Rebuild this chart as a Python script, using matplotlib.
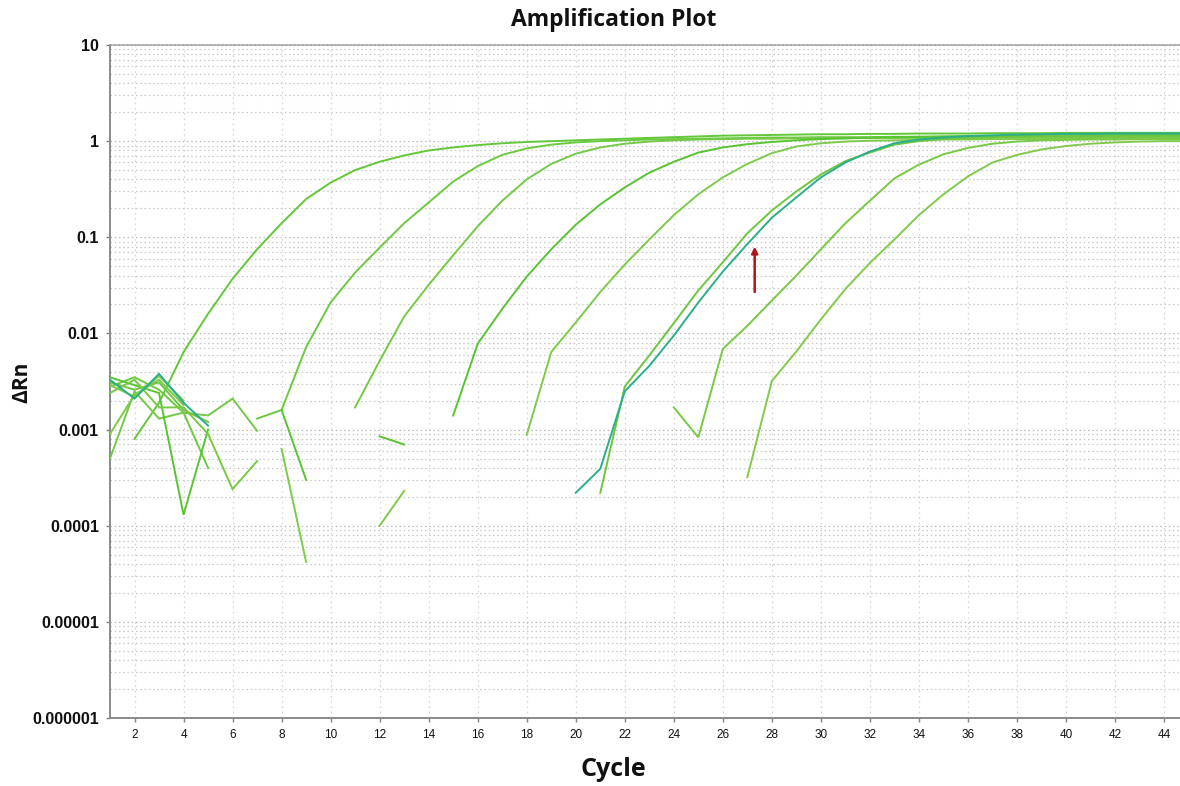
import numpy as np
import matplotlib
matplotlib.use("Agg")
import matplotlib.pyplot as plt

nan = np.nan

cycles = list(range(1, 46))

curve_a = [nan, 0.0008, 0.0019, 0.0064, 0.016, 0.037, 0.075, 0.14, 0.25, 0.37,
           0.50, 0.61, 0.71, 0.80, 0.86, 0.91, 0.95, 0.98, 1.00, 1.02,
           1.04, 1.06, 1.08, 1.10, 1.12, 1.14, 1.15, 1.16, 1.17, 1.18,
           1.18, 1.19, 1.19, 1.20, 1.20, 1.20, 1.21, 1.21, 1.21, 1.22,
           1.22, 1.22, 1.22, 1.22, 1.22]

curve_b = [0.0028, 0.0035, 0.0026, 0.0015, 0.0004, nan, 0.0013, 0.0016, 0.0072, 0.021,
           0.043, 0.078, 0.14, 0.23, 0.38, 0.55, 0.72, 0.84, 0.92, 0.97,
           1.00, 1.02, 1.04, 1.05, 1.06, 1.07, 1.08, 1.09, 1.09, 1.10,
           1.10, 1.10, 1.11, 1.11, 1.11, 1.12, 1.12, 1.12, 1.12, 1.12,
           1.13, 1.13, 1.13, 1.13, 1.13]

curve_c = [0.0005, 0.0025, 0.0013, 0.0015, 0.0014, 0.0021, 0.00097, nan, nan, nan,
           0.0017, 0.0052, 0.015, 0.032, 0.065, 0.13, 0.24, 0.40, 0.58, 0.74,
           0.86, 0.94, 0.99, 1.02, 1.04, 1.05, 1.06, 1.06, 1.07, 1.07,
           1.07, 1.08, 1.08, 1.08, 1.08, 1.08, 1.09, 1.09, 1.09, 1.09,
           1.09, 1.09, 1.09, 1.09, 1.09]

curve_d = [0.0035, 0.0029, 0.0024, 0.00013, 0.0010, nan, nan, 0.0016, 0.0003, nan,
           nan, 0.00085, 0.0007, nan, 0.0014, 0.0078, 0.018, 0.039, 0.075, 0.135,
           0.22, 0.33, 0.47, 0.61, 0.76, 0.86, 0.93, 0.98, 1.02, 1.05,
           1.07, 1.09, 1.10, 1.11, 1.12, 1.13, 1.14, 1.14, 1.15, 1.15,
           1.16, 1.16, 1.16, 1.17, 1.17]

curve_e = [0.0009, 0.0023, 0.0033, 0.0018, nan, nan, nan, 0.00063, 0.000042, nan,
           nan, 0.0001, 0.00023, nan, nan, nan, nan, 0.00088, 0.0064, 0.013,
           0.027, 0.052, 0.095, 0.17, 0.28, 0.42, 0.58, 0.75, 0.88, 0.95,
           0.99, 1.01, 1.02, 1.03, 1.04, 1.04, 1.05, 1.05, 1.05, 1.06,
           1.06, 1.06, 1.06, 1.06, 1.06]

curve_f = [0.0031, 0.0026, 0.0031, 0.0016, 0.0012, nan, nan, nan, nan, nan,
           nan, nan, nan, nan, nan, nan, nan, nan, nan, nan,
           0.00022, 0.0028, 0.0059, 0.0128, 0.028, 0.055, 0.11, 0.19, 0.30, 0.45,
           0.62, 0.76, 0.92, 1.00, 1.05, 1.08, 1.10, 1.12, 1.13, 1.14,
           1.14, 1.15, 1.15, 1.15, 1.15]

curve_g = [0.0033, 0.0021, 0.0038, 0.0019, 0.0011, nan, nan, nan, nan, nan,
           nan, nan, nan, nan, nan, nan, nan, nan, nan, 0.00022,
           0.00039, 0.0025, 0.0046, 0.0095, 0.021, 0.044, 0.085, 0.16, 0.26, 0.42,
           0.60, 0.78, 0.95, 1.04, 1.09, 1.13, 1.15, 1.17, 1.18, 1.19,
           1.19, 1.20, 1.20, 1.20, 1.20]

curve_h = [0.0024, 0.0033, 0.0017, 0.0017, 0.0009, 0.00024, 0.00047, nan, nan, nan,
           nan, nan, nan, nan, nan, nan, nan, nan, nan, nan,
           nan, nan, nan, 0.0017, 0.00083, 0.0069, 0.012, 0.022, 0.040, 0.075,
           0.14, 0.24, 0.41, 0.57, 0.73, 0.85, 0.94, 0.99, 1.02, 1.03,
           1.04, 1.04, 1.05, 1.05, 1.05]

curve_i = [0.0029, 0.0022, 0.0036, 0.0020, nan, nan, nan, nan, nan, nan,
           nan, nan, nan, nan, nan, nan, nan, nan, nan, nan,
           nan, nan, nan, nan, nan, nan, 0.00032, 0.0032, 0.0065, 0.014,
           0.029, 0.054, 0.095, 0.17, 0.28, 0.43, 0.60, 0.72, 0.82, 0.89,
           0.94, 0.97, 0.99, 1.00, 1.00]

series = [curve_a, curve_b, curve_c, curve_d, curve_e, curve_f, curve_h, curve_i, curve_g]
colors = ['#62c83a', '#6cca3e', '#74c946', '#58c432', '#7ccb4a',
          '#6ec63e', '#78c944', '#82ca4c', '#2aae8c']

y_ticks = [1e-6, 1e-5, 1e-4, 1e-3, 1e-2, 1e-1, 1, 10]
y_labels = ['0.000001', '0.00001', '0.0001', '0.001', '0.01', '0.1', '1', '10']
x_ticks = list(range(2, 45, 2))
x_labels = [str(v) for v in x_ticks]

arrow_cycle = 27.3
arrow_from = 0.027
arrow_to = 0.08

fig = plt.figure(figsize=(11.8, 7.86), dpi=100)
ax = fig.add_axes([110 / 1180, 1 - 718 / 786, 1070 / 1180, 673 / 786])

for ys, col in zip(series, colors):
    ax.plot(cycles, ys, color=col, lw=1.4, solid_joinstyle='miter', zorder=3)

ax.set_yscale('log')
ax.set_ylim(1e-6, 10)
ax.set_xlim(1, 44.65)

ax.set_yticks(y_ticks)
ax.set_yticklabels(y_labels)
ax.yaxis.set_minor_locator(matplotlib.ticker.LogLocator(base=10, subs=np.arange(2, 10)))
ax.yaxis.set_minor_formatter(matplotlib.ticker.NullFormatter())
ax.set_xticks(x_ticks)
ax.set_xticklabels(x_labels)

ax.grid(which='major', axis='y', color='#b8b8b8', lw=0.9, ls=(0, (1.2, 2.2)))
ax.grid(which='minor', axis='y', color='#c8c8c8', lw=0.9, ls=(0, (1.2, 2.2)))
ax.grid(which='major', axis='x', color='#d2d2d2', lw=0.9, ls=(0, (1.2, 3)))
ax.set_axisbelow(True)

for t in ax.get_yticklabels():
    t.set_fontfamily('Liberation Sans')
    t.set_fontweight('bold')
    t.set_fontsize(11.5)
for t in ax.get_xticklabels():
    t.set_fontfamily('Liberation Sans')
    t.set_fontsize(8.5)

ax.tick_params(axis='both', which='major', length=3, color='#808080', width=1, pad=5,
               labelcolor='#111111')
ax.tick_params(axis='y', which='minor', length=0)

for s in ['left', 'bottom']:
    ax.spines[s].set_color('#8a8a8a')
    ax.spines[s].set_linewidth(1.4)
ax.spines['right'].set_visible(False)
ax.spines['top'].set_color('#a0a0a0')
ax.spines['top'].set_linewidth(1.2)
ax.spines['top'].set_linestyle((0, (1.2, 1.2)))

ax.annotate('', xy=(arrow_cycle, arrow_to), xytext=(arrow_cycle, arrow_from),
            arrowprops=dict(arrowstyle='-|>', color='#b3141b', lw=1.8,
                            mutation_scale=9, shrinkA=0, shrinkB=0), zorder=5)

fig.text(614 / 1180, 1 - 20 / 786, 'Amplification Plot', ha='center', va='center',
         fontfamily='Open Sans', fontweight='bold', fontsize=16.5, color='#111111')
fig.text(613 / 1180, 1 - 769 / 786, 'Cycle', ha='center', va='center',
         fontfamily='Open Sans', fontweight='bold', fontsize=18, color='#111111')
fig.text(22 / 1180, 1 - 382 / 786, 'ΔRn', ha='center', va='center', rotation=90,
         fontfamily='Open Sans', fontweight='bold', fontsize=15, color='#111111')

fig.savefig('out.png', dpi=100)
